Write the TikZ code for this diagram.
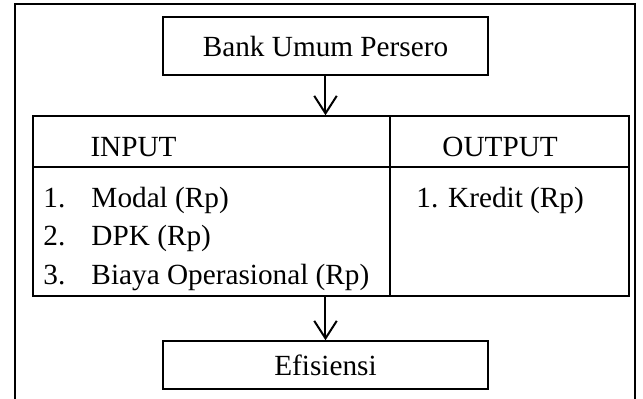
\documentclass[tikz,border=0pt]{standalone}
\usepackage{fontspec}
\setmainfont{Liberation Serif}
\usetikzlibrary{arrows.meta}
\tikzset{>={Straight Barb[length=7pt,width=9pt]}}
\tikzset{
  kotak/.style={draw,line width=0.6pt,minimum width=130pt,inner sep=0pt},
  teks/.style={anchor=base west,inner sep=0pt}
}

\begin{document}
\begin{tikzpicture}[x=0.4pt,y=-0.4pt,font=\fontsize{11.7}{14}\selectfont]
  \useasboundingbox (0,0) rectangle (643,399);
  % frame
  \draw[line width=0.8pt] (15,399) -- (15,4) -- (635,4) -- (635,399);
  % boxes
  \node[kotak,minimum height=23.2pt] (bank) at (325.5,46) {Bank Umum Persero};
  \node[draw,line width=0.6pt,minimum width=238.4pt,minimum height=72pt] (tabel) at (331,206) {};
  \node[kotak,minimum height=19.2pt] (efisiensi) at (325.5,365) {Efisiensi};
  % table lines
  \draw[line width=0.6pt] (33,167) -- (629,167);
  \draw[line width=0.6pt] (390,116) -- (390,296);
  % heads
  \node[teks] (input) at (90,157) {INPUT};
  \node[teks] (output) at (442,157) {OUTPUT};
  % items
  \foreach \t [count=\i] in {Modal (Rp),DPK (Rp),Biaya Operasional (Rp)} {
    \node[teks] (no\i) at (43,{207.7+38.3*(\i-1)}) {\i.};
    \node[teks] (item\i) at (91,{207.7+38.3*(\i-1)}) {\t};
  }
  \node[teks] (kredit) at (416,207.7) {1. Kredit (Rp)};
  % arrows
  \draw[->,line width=0.8pt] (bank.south) -- (bank.south |- tabel.north);
  \draw[->,line width=0.8pt] (efisiensi.north |- tabel.south) -- (efisiensi.north);
\end{tikzpicture}
\end{document}
